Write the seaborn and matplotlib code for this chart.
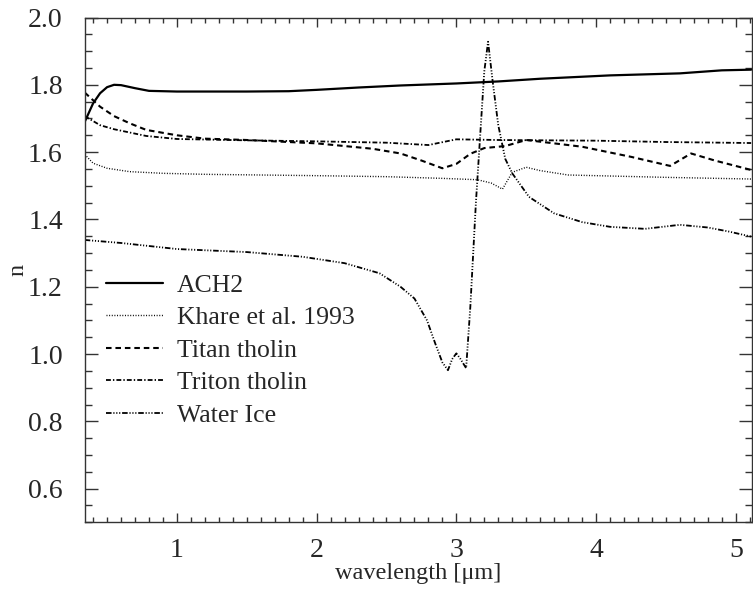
import matplotlib
matplotlib.use("Agg")
import matplotlib.pyplot as plt
import seaborn as sns
import pandas as pd
from matplotlib.ticker import MultipleLocator, FormatStrFormatter

# Refractive index (real part) versus wavelength for several materials
ach2_wl = [0.34, 0.40, 0.45, 0.50, 0.55, 0.60, 0.70, 0.80, 1.0, 1.5, 1.8, 2.0, 2.3, 2.6,
           3.0, 3.3, 3.6, 3.8, 4.1, 4.6, 4.9, 5.11]
ach2_n = [1.690, 1.745, 1.775, 1.793, 1.800, 1.799, 1.790, 1.782, 1.780, 1.780, 1.781,
          1.785, 1.792, 1.798, 1.804, 1.810, 1.818, 1.822, 1.828, 1.834, 1.843, 1.845]

khare_wl = [0.34, 0.40, 0.50, 0.66, 0.9, 1.2, 2.0, 2.5, 2.9, 3.15, 3.25, 3.33, 3.4, 3.5,
            3.6, 3.8, 4.5, 5.11]
khare_n = [1.593, 1.567, 1.552, 1.542, 1.537, 1.534, 1.530, 1.527, 1.522, 1.518, 1.508,
           1.490, 1.540, 1.555, 1.545, 1.532, 1.525, 1.520]

titan_wl = [0.34, 0.45, 0.55, 0.66, 0.78, 1.0, 1.2, 1.5, 2.0, 2.4, 2.6, 2.75, 2.9, 3.0,
            3.1, 3.2, 3.35, 3.5, 3.9, 4.25, 4.53, 4.68, 4.85, 5.11]
titan_n = [1.777, 1.735, 1.707, 1.686, 1.666, 1.650, 1.640, 1.636, 1.626, 1.610, 1.596,
           1.575, 1.552, 1.565, 1.595, 1.612, 1.618, 1.636, 1.616, 1.586, 1.559, 1.596,
           1.575, 1.547]

triton_wl = [0.34, 0.45, 0.55, 0.78, 1.0, 1.5, 2.0, 2.5, 2.8, 3.0, 3.3, 4.0, 4.5, 5.11]
triton_n = [1.707, 1.680, 1.668, 1.648, 1.639, 1.635, 1.632, 1.628, 1.621, 1.638, 1.636,
            1.634, 1.630, 1.627]

ice_wl = [0.34, 0.6, 1.0, 1.5, 1.9, 2.2, 2.45, 2.6, 2.7, 2.79, 2.85, 2.9, 2.94, 2.97,
          3.0, 3.03, 3.07, 3.1, 3.14, 3.17, 3.2, 3.227, 3.26, 3.3, 3.35, 3.4, 3.52, 3.7,
          3.9, 4.1, 4.35, 4.6, 4.8, 4.95, 5.11]
ice_n = [1.339, 1.330, 1.312, 1.303, 1.289, 1.270, 1.240, 1.200, 1.165, 1.100, 1.030,
         0.975, 0.952, 0.985, 1.002, 0.985, 0.958, 1.140, 1.450, 1.646, 1.840, 1.928,
         1.810, 1.680, 1.580, 1.537, 1.467, 1.418, 1.392, 1.378, 1.372, 1.384, 1.376,
         1.364, 1.349]

labels = ["ACH2", "Khare et al. 1993", "Titan tholin", "Triton tholin", "Water Ice"]

sns.set_style("ticks")
plt.rcParams["font.family"] = ["Liberation Serif", "DejaVu Serif"]
plt.rcParams["lines.scale_dashes"] = False

fig = plt.figure(figsize=(7.53, 5.90), dpi=100)
ax = fig.add_axes([85 / 753, 1 - 522.3 / 590, (751.7 - 85) / 753, (522.3 - 17.5) / 590])

series = [
    (ach2_wl, ach2_n, dict(lw=1.6, linestyle="-")),
    (khare_wl, khare_n, dict(lw=1.0, linestyle=(0, (0.7, 1.2)))),
    (titan_wl, titan_n, dict(lw=1.5, linestyle=(0, (4.0, 2.8)))),
    (triton_wl, triton_n, dict(lw=1.3, linestyle=(0, (3.5, 1.5, 1.0, 1.5)))),
    (ice_wl, ice_n, dict(lw=1.3, linestyle=(0, (4.0, 1.3, 0.8, 1.3, 0.8, 1.3, 0.8, 1.3)))),
]

for (wl, n, style), lab in zip(series, labels):
    df = pd.DataFrame({"wavelength": wl, "n": n})
    sns.lineplot(data=df, x="wavelength", y="n", ax=ax, color="black",
                 estimator=None, label=lab, **style)

ax.set_xlim(0.342, 5.114)
ax.set_ylim(0.5, 2.0)
ax.xaxis.set_major_locator(MultipleLocator(1))
ax.xaxis.set_minor_locator(MultipleLocator(0.1))
ax.yaxis.set_major_locator(MultipleLocator(0.2))
ax.yaxis.set_minor_locator(MultipleLocator(0.05))
ax.yaxis.set_major_formatter(FormatStrFormatter("%.1f"))

ax.tick_params(axis="both", which="both", direction="in", top=True, right=True,
               color="#333333", width=1.0)
ax.tick_params(axis="y", which="major", length=9.4, labelsize=20, pad=16)
ax.tick_params(axis="y", which="minor", length=4.8)
ax.tick_params(axis="x", which="major", length=6.7, labelsize=20, pad=11)
ax.tick_params(axis="x", which="minor", length=3.8)
for sp in ax.spines.values():
    sp.set_visible(True)
    sp.set_color("#333333")
    sp.set_linewidth(1.0)

ax.set_xlabel("wavelength [μm]", fontsize=17.5, labelpad=0)
ax.set_ylabel("n", fontsize=17.5, va="center")
ax.yaxis.set_label_coords(-0.1005, 0.5)

leg = ax.legend(loc="upper left", bbox_to_anchor=(106 / 753, 1 - 274 / 590),
                bbox_transform=fig.transFigure, frameon=False, fontsize=18.5,
                handlelength=2.2, handletextpad=0.55, labelspacing=0.37,
                borderpad=0, borderaxespad=0)

fig.savefig("out.png", dpi=100)
